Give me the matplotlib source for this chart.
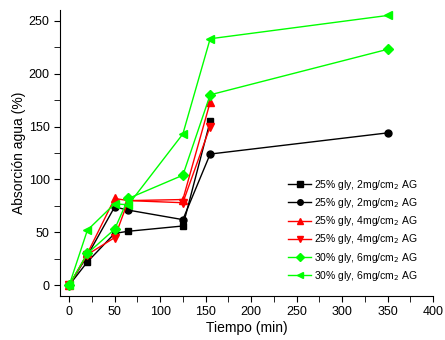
import matplotlib.pyplot as plt
from matplotlib.ticker import MultipleLocator

plt.rcParams['font.family'] = ['Liberation Sans', 'DejaVu Sans']

# Tiempo (min) y absorción de agua (%)
t_sq = [0, 20, 50, 65, 125, 155]
sq = [0, 22, 49, 51, 56, 155]
t_ci = [0, 20, 50, 65, 125, 155, 350]
ci = [0, 28, 74, 71, 62, 124, 144]
t_up = [0, 20, 50, 65, 125, 155]
up = [0, 30, 82, 80, 81, 173]
t_dn = [0, 20, 50, 65, 125, 155]
dn = [0, 29, 45, 80, 78, 150]
t_di = [0, 20, 50, 65, 125, 155, 350]
di = [0, 30, 53, 82, 104, 180, 223]
t_lt = [0, 20, 50, 65, 125, 155, 350]
lt = [0, 52, 77, 76, 143, 233, 255]

labels = ['25% gly, 2mg/cm$_2$ AG', '25% gly, 2mg/cm$_2$ AG',
          '25% gly, 4mg/cm$_2$ AG', '25% gly, 4mg/cm$_2$ AG',
          '30% gly, 6mg/cm$_2$ AG', '30% gly, 6mg/cm$_2$ AG']

fig = plt.figure(figsize=(4.45, 3.4), dpi=100)
ax = fig.add_axes([0.135, 0.13, 0.838, 0.84])

ax.plot(t_sq, sq, 's-', color='black', lw=1, ms=5, label=labels[0])
ax.plot(t_ci, ci, 'o-', color='black', lw=1, ms=5, label=labels[1])
ax.plot(t_up, up, '^-', color='#ff0000', lw=1, ms=6, label=labels[2])
ax.plot(t_dn, dn, 'v-', color='#ff0000', lw=1, ms=6, label=labels[3])
ax.plot(t_di, di, 'D-', color='#00ff00', lw=1, ms=5, label=labels[4])
ax.plot(t_lt, lt, '<-', color='#00ff00', lw=1, ms=6, label=labels[5])

ax.set_xlim(-10, 400)
ax.set_ylim(-10, 260)
ax.xaxis.set_major_locator(MultipleLocator(50))
ax.xaxis.set_minor_locator(MultipleLocator(25))
ax.yaxis.set_major_locator(MultipleLocator(50))
ax.yaxis.set_minor_locator(MultipleLocator(25))
ax.tick_params(which='both', direction='out', length=4, labelsize=9)
ax.spines['top'].set_visible(False)
ax.spines['right'].set_visible(False)
ax.set_xlabel('Tiempo (min)', fontsize=10, labelpad=2)
ax.set_ylabel('Absorción agua (%)', fontsize=10, labelpad=2)

ax.legend(loc='lower right', bbox_to_anchor=(0.985, 0.013), frameon=False,
          fontsize=7.5, handlelength=2.2, handletextpad=0.3, labelspacing=0.4,
          markerscale=0.8)

fig.savefig('out.png', dpi=100)
